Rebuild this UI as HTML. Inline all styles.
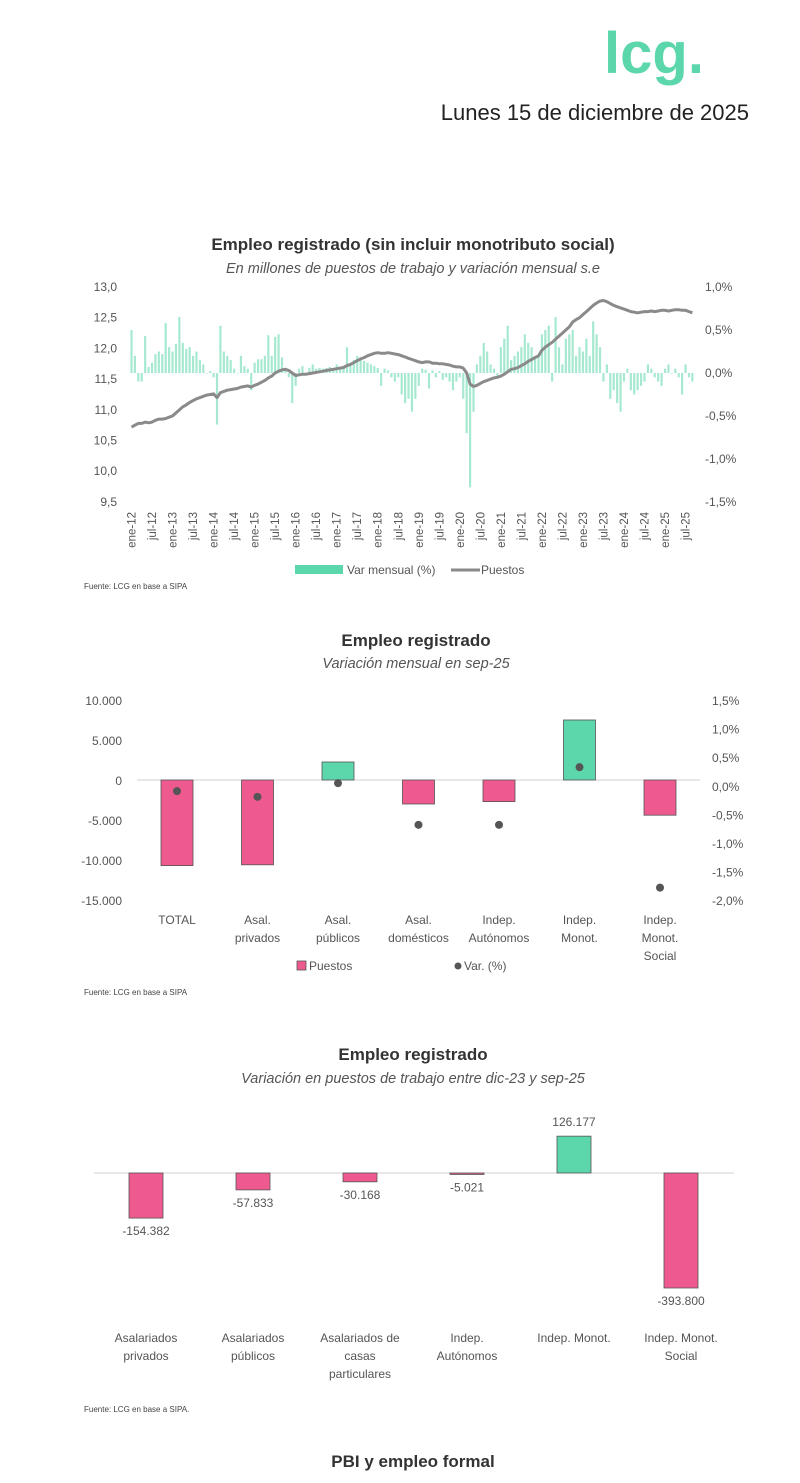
<!DOCTYPE html>
<html><head><meta charset="utf-8">
<style>
html,body{margin:0;padding:0;background:#fff;}
svg text{font-family:"Liberation Sans",sans-serif;}
</style></head>
<body>
<svg id="page" width="800" height="1478" viewBox="0 0 800 1478" xmlns="http://www.w3.org/2000/svg">
<text x="654" y="73" text-anchor="middle" font-size="58" font-weight="bold" fill="#5cd6ab">lcg.</text>
<text x="749" y="120" text-anchor="end" font-size="22" fill="#222">Lunes 15 de diciembre de 2025</text>

<text x="413" y="250" text-anchor="middle" font-size="17" font-weight="bold" fill="#333">Empleo registrado (sin incluir monotributo social)</text>
<text x="413" y="273" text-anchor="middle" font-size="14.5" font-style="italic" fill="#555">En millones de puestos de trabajo y variación mensual s.e</text>
<g id="c1"></g>
<text x="84" y="589" font-size="8" fill="#444">Fuente: LCG en base a SIPA</text>

<text x="416" y="646" text-anchor="middle" font-size="17" font-weight="bold" fill="#333">Empleo registrado</text>
<text x="416" y="668" text-anchor="middle" font-size="14.5" font-style="italic" fill="#555">Variación mensual en sep-25</text>
<g id="c2"></g>
<text x="84" y="995" font-size="8" fill="#444">Fuente: LCG en base a SIPA</text>

<text x="413" y="1060" text-anchor="middle" font-size="17" font-weight="bold" fill="#333">Empleo registrado</text>
<text x="413" y="1083" text-anchor="middle" font-size="14.5" font-style="italic" fill="#555">Variación en puestos de trabajo entre dic-23 y sep-25</text>
<g id="c3"></g>
<text x="84" y="1412" font-size="8" fill="#444">Fuente: LCG en base a SIPA.</text>

<text x="413" y="1467" text-anchor="middle" font-size="17" font-weight="bold" fill="#333">PBI y empleo formal</text>
</svg>
<script>
const c1Puestos=[10.72,10.75,10.78,10.78,10.8,10.79,10.8,10.83,10.85,10.85,10.86,10.88,
10.9,10.95,11.0,11.05,11.08,11.12,11.15,11.18,11.2,11.22,11.24,11.25,
11.26,11.2,11.28,11.3,11.32,11.33,11.34,11.35,11.37,11.38,11.39,11.37,
11.4,11.42,11.45,11.48,11.52,11.55,11.6,11.63,11.65,11.66,11.64,11.6,
11.56,11.57,11.58,11.58,11.59,11.6,11.61,11.62,11.63,11.64,11.65,11.66,
11.67,11.68,11.69,11.72,11.74,11.77,11.8,11.83,11.85,11.88,11.9,11.92,
11.93,11.92,11.92,11.93,11.92,11.91,11.9,11.88,11.86,11.84,11.82,11.8,
11.78,11.77,11.78,11.78,11.76,11.76,11.75,11.75,11.74,11.73,11.71,11.7,
11.7,11.68,11.6,11.42,11.38,11.4,11.43,11.46,11.48,11.5,11.52,11.53,
11.55,11.58,11.62,11.66,11.67,11.69,11.72,11.75,11.79,11.82,11.85,11.88,
11.97,12.02,12.06,12.1,12.15,12.2,12.25,12.3,12.35,12.43,12.47,12.5,
12.55,12.6,12.65,12.7,12.74,12.77,12.78,12.76,12.73,12.7,12.68,12.66,
12.64,12.62,12.6,12.59,12.58,12.59,12.6,12.6,12.61,12.6,12.61,12.62,
12.62,12.61,12.62,12.63,12.63,12.62,12.62,12.6,12.58];
const c1Var=[0.5,0.2,-0.1,-0.1,0.43,0.07,0.12,0.22,0.25,0.22,0.58,0.3,
0.25,0.34,0.65,0.35,0.28,0.3,0.2,0.25,0.15,0.1,0.0,0.02,
-0.05,-0.6,0.55,0.25,0.2,0.15,0.05,0.0,0.2,0.08,0.05,-0.2,
0.12,0.16,0.16,0.2,0.44,0.2,0.42,0.45,0.18,0.06,-0.05,-0.35,
-0.15,0.05,0.08,0.0,0.06,0.1,0.05,0.06,0.05,0.06,0.07,0.05,
0.1,0.07,0.05,0.3,0.1,0.15,0.2,0.15,0.14,0.12,0.1,0.08,
0.06,-0.15,0.05,0.03,-0.05,-0.1,-0.05,-0.25,-0.35,-0.3,-0.45,-0.3,
-0.15,0.05,0.04,-0.18,0.03,-0.05,0.02,-0.08,-0.05,-0.1,-0.2,-0.1,
-0.05,-0.3,-0.7,-1.33,-0.45,0.1,0.2,0.35,0.25,0.1,0.05,-0.05,
0.3,0.4,0.55,0.15,0.2,0.25,0.3,0.45,0.35,0.3,0.2,0.2,
0.45,0.5,0.55,-0.1,0.65,0.3,0.1,0.4,0.45,0.5,0.2,0.3,
0.25,0.4,0.2,0.6,0.45,0.3,-0.1,0.1,-0.3,-0.2,-0.35,-0.45,
-0.1,0.05,-0.2,-0.25,-0.2,-0.15,-0.1,0.1,0.05,-0.05,-0.1,-0.15,
0.05,0.1,0.0,0.05,-0.05,-0.25,0.1,-0.05,-0.1];
const c1LeftTicks=["13,0","12,5","12,0","11,5","11,0","10,5","10,0","9,5"];
const c1RightTicks=["1,0%","0,5%","0,0%","-0,5%","-1,0%","-1,5%"];
const c1XLabels=["ene-12","jul-12","ene-13","jul-13","ene-14","jul-14","ene-15","jul-15","ene-16","jul-16","ene-17","jul-17","ene-18","jul-18","ene-19","jul-19","ene-20","jul-20","ene-21","jul-21","ene-22","jul-22","ene-23","jul-23","ene-24","jul-24","ene-25","jul-25"];

const c2Cats=[["TOTAL"],["Asal.","privados"],["Asal.","públicos"],["Asal.","domésticos"],["Indep.","Autónomos"],["Indep.","Monot."],["Indep.","Monot.","Social"]];
const c2Puestos=[-10700,-10600,2250,-3000,-2700,7500,-4400];
const c2Var=[-0.09,-0.19,0.05,-0.68,-0.68,0.33,-1.78];
const c2LeftTicks=["10.000","5.000","0","-5.000","-10.000","-15.000"];
const c2RightTicks=["1,5%","1,0%","0,5%","0,0%","-0,5%","-1,0%","-1,5%","-2,0%"];

const c3Cats=[["Asalariados","privados"],["Asalariados","públicos"],["Asalariados de","casas","particulares"],["Indep.","Autónomos"],["Indep. Monot."],["Indep. Monot.","Social"]];
const c3Values=[-154382,-57833,-30168,-5021,126177,-393800];
const c3Labels=["-154.382","-57.833","-30.168","-5.021","126.177","-393.800"];

const NS="http://www.w3.org/2000/svg";
function mk(parent,tag,attrs,txt){const e=document.createElementNS(NS,tag);for(const k in attrs)e.setAttribute(k,attrs[k]);if(txt!==undefined)e.textContent=txt;parent.appendChild(e);return e;}
const PINK="#ee5a8f",GREEN="#5cd6ab",AX="#555";

// Chart 1
(function(){
const g=document.getElementById('c1');
const yL=v=>287+(13-v)*61.43;
const yR=v=>373-v*86;
const x=i=>131.5+i*3.42;
c1LeftTicks.forEach((t,i)=>{const e=mk(g,'text',{x:117,y:291+i*30.7,'text-anchor':'end','font-size':12,fill:AX},t);});
c1RightTicks.forEach((t,i)=>{const e=mk(g,'text',{x:705,y:291+i*43,'font-size':12,fill:AX},t);});
c1Var.forEach((v,i)=>{const y0=yR(0),y1=yR(v);const r=mk(g,'rect',{x:x(i)-1.1,y:Math.min(y0,y1),width:2.2,height:Math.max(0.5,Math.abs(y1-y0)),fill:"#a6e9d0"});});
const pts=c1Puestos.map((v,i)=>x(i).toFixed(1)+","+yL(v).toFixed(1)).join(" ");
const pl=mk(g,'polyline',{points:pts,fill:'none',stroke:'#8a8a8a','stroke-width':3,'stroke-linejoin':'round'});

c1XLabels.forEach((t,i)=>{const xx=x(i*6)+4;const e=mk(g,'text',{x:xx,y:512,'text-anchor':'end','font-size':11.5,fill:AX,transform:`rotate(-90 ${xx} 512)`},t);});
const lg=mk(g,'rect',{x:295,y:565,width:48,height:9,fill:GREEN});
const lt=mk(g,'text',{x:347,y:574,'font-size':12,fill:AX},"Var mensual (%)");
const ll=mk(g,'line',{x1:451,y1:570,x2:480,y2:570,stroke:'#8a8a8a','stroke-width':3});
const lt2=mk(g,'text',{x:481,y:574,'font-size':12,fill:AX},"Puestos");
})();

// Chart 2
(function(){
const g=document.getElementById('c2');
const yL=v=>780-v*0.008;
const yR=v=>786-v*57.1;
const cx=i=>177+i*80.5;
c2LeftTicks.forEach((t,i)=>{const e=mk(g,'text',{x:122,y:705+i*40,'text-anchor':'end','font-size':12,fill:AX},t);});
c2RightTicks.forEach((t,i)=>{const e=mk(g,'text',{x:712,y:705+i*28.6,'font-size':12,fill:AX},t);});
const zl=mk(g,'line',{x1:137,y1:780,x2:700,y2:780,stroke:'#d0d0d0','stroke-width':1});
c2Puestos.forEach((v,i)=>{const y0=yL(0),y1=yL(v);const r=mk(g,'rect',{x:cx(i)-16,y:Math.min(y0,y1),width:32,height:Math.abs(y1-y0),fill:v>=0?GREEN:PINK,stroke:'#555','stroke-width':0.8});});
c2Var.forEach((v,i)=>{const c=mk(g,'circle',{cx:cx(i),cy:yR(v),r:4,fill:'#555'});});
c2Cats.forEach((lines,i)=>lines.forEach((t,j)=>{const e=mk(g,'text',{x:cx(i),y:924+j*18,'text-anchor':'middle','font-size':12,fill:AX},t);}));
const s=mk(g,'rect',{x:297,y:961,width:9,height:9,fill:PINK,stroke:'#555','stroke-width':0.8});
const t1=mk(g,'text',{x:309,y:970,'font-size':12,fill:AX},"Puestos");
const d=mk(g,'circle',{cx:458,cy:966,r:3.5,fill:'#555'});
const t2=mk(g,'text',{x:464,y:970,'font-size':12,fill:AX},"Var. (%)");
})();

// Chart 3
(function(){
const g=document.getElementById('c3');
const y=v=>1173-v*0.000292;
const cx=i=>146+i*107;
const zl=mk(g,'line',{x1:94,y1:1173,x2:734,y2:1173,stroke:'#d0d0d0','stroke-width':1});
c3Values.forEach((v,i)=>{const y0=y(0),y1=y(v);const r=mk(g,'rect',{x:cx(i)-17,y:Math.min(y0,y1),width:34,height:Math.max(1,Math.abs(y1-y0)),fill:v>=0?GREEN:PINK,stroke:'#555','stroke-width':0.8});
const ly=v>=0?y1-10:y1+17;const t=mk(g,'text',{x:cx(i),y:ly,'text-anchor':'middle','font-size':12,fill:AX},c3Labels[i]);});
c3Cats.forEach((lines,i)=>lines.forEach((t,j)=>{const e=mk(g,'text',{x:cx(i),y:1342+j*18,'text-anchor':'middle','font-size':12,fill:AX},t);}));
})();
</script>
</body></html>
